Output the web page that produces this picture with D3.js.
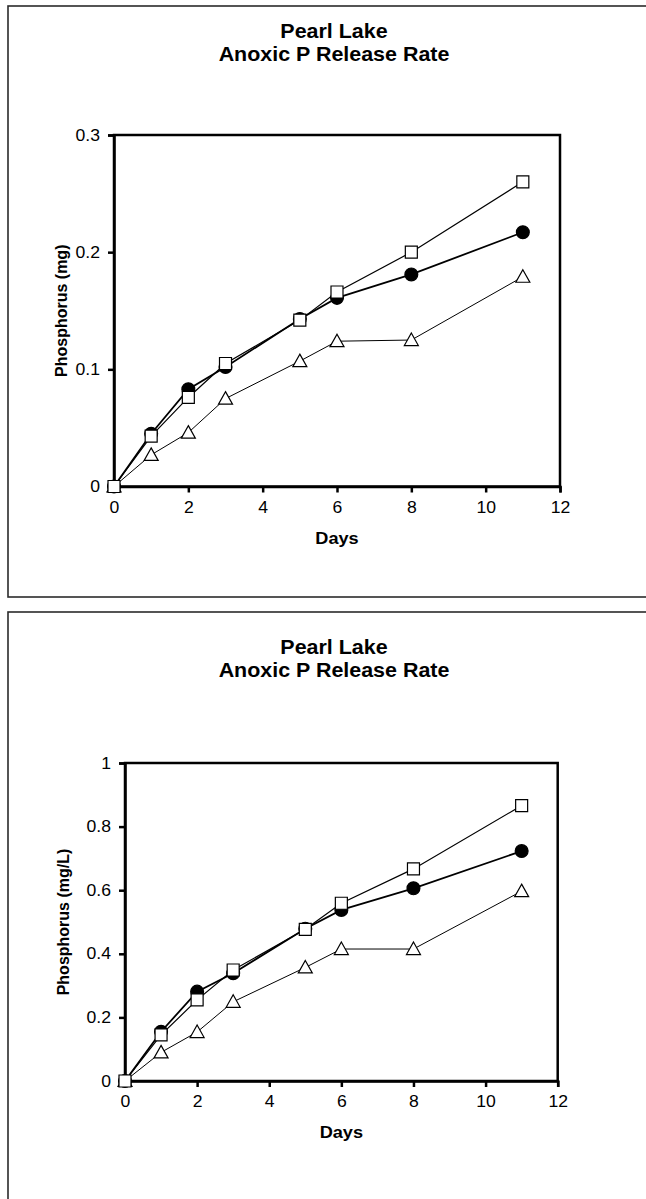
<!DOCTYPE html>
<html>
<head>
<meta charset="utf-8">
<script src="https://cdn.jsdelivr.net/npm/d3@7"></script>
<style>
  html, body { margin: 0; padding: 0; background: #fff; }
  svg { display: block; }
  text { font-family: "Liberation Sans", Arial, sans-serif; fill: #000; }
</style>
</head>
<body>
<svg id="chart" width="646" height="1199"></svg>
<script>
// ---------- data ----------
const titleLines = ["Pearl Lake", "Anoxic P Release Rate"];
const xLabel = "Days";
const yLabelMass = "Phosphorus (mg)";
const yLabelConc = "Phosphorus (mg/L)";

const days = [0, 1, 2, 3, 5, 6, 8, 11];

// top chart: phosphorus mass (mg)
const massCircle   = [0, 0.045, 0.083, 0.102, 0.143, 0.161, 0.181, 0.217];
const massSquare   = [0, 0.043, 0.076, 0.105, 0.142, 0.166, 0.200, 0.260];
const massTriangle = [0, 0.027, 0.046, 0.075, 0.107, 0.124, 0.125, 0.179];

// bottom chart: phosphorus concentration (mg/L)
const concCircle   = [0, 0.155, 0.281, 0.339, 0.479, 0.538, 0.606, 0.723];
const concSquare   = [0, 0.145, 0.255, 0.349, 0.477, 0.559, 0.667, 0.866];
const concTriangle = [0, 0.090, 0.154, 0.249, 0.357, 0.415, 0.415, 0.597];

const xTicks = [0, 2, 4, 6, 8, 10, 12];
const yTicksMass = [0, 0.1, 0.2, 0.3];
const yTickLabelsMass = ["0", "0.1", "0.2", "0.3"];
const yTicksConc = [0, 0.2, 0.4, 0.6, 0.8, 1];
const yTickLabelsConc = ["0", "0.2", "0.4", "0.6", "0.8", "1"];

// ---------- drawing ----------
const svg = d3.select("#chart");
const SX = 1.1; // the original text is slightly stretched horizontally

function drawPanel(cfg) {
  const g = svg.append("g");

  // outer frame (extends beyond the right edge of the page)
  g.append("rect")
    .attr("x", cfg.box.x).attr("y", cfg.box.y)
    .attr("width", cfg.box.w).attr("height", cfg.box.h)
    .attr("fill", "#fff").attr("stroke", "#2b2b2b").attr("stroke-width", 1.6);

  // title
  const t = g.append("text")
    .attr("transform", `translate(${cfg.titleX},${cfg.titleY}) scale(${SX},1)`)
    .attr("text-anchor", "middle")
    .style("font-size", "19.5px").style("font-weight", "bold");
  titleLines.forEach((s, i) => {
    t.append("tspan").attr("x", 0).attr("dy", i === 0 ? 0 : 23).text(s);
  });

  const x = d3.scaleLinear().domain([0, 12]).range([cfg.left, cfg.right]);
  const y = d3.scaleLinear().domain(cfg.yDomain).range([cfg.bottom, cfg.top]);

  // plot area border
  g.append("rect")
    .attr("x", cfg.left).attr("y", cfg.top)
    .attr("width", cfg.right - cfg.left).attr("height", cfg.bottom - cfg.top)
    .attr("fill", "none").attr("stroke", "#000").attr("stroke-width", 2.5);

  // x axis
  const xAxis = d3.axisBottom(x).tickValues(xTicks).tickSize(6).tickPadding(9)
    .tickFormat(d3.format("d"));
  const gx = g.append("g").attr("transform", `translate(0,${cfg.bottom})`).call(xAxis);
  gx.select(".domain").attr("stroke", "#000").attr("stroke-width", 2.5);
  gx.selectAll(".tick line").attr("stroke", "#000").attr("stroke-width", 2.5);
  gx.selectAll(".tick text")
    .attr("transform", `scale(${SX},1)`)
    .style("font-size", "16px").style("font-family", "Liberation Sans, Arial, sans-serif");

  // y axis
  const yAxis = d3.axisLeft(y).tickValues(cfg.yTicks).tickSize(6).tickPadding(8)
    .tickFormat((d, i) => cfg.yTickLabels[i]);
  const gy = g.append("g").attr("transform", `translate(${cfg.left},0)`).call(yAxis);
  gy.select(".domain").attr("stroke", "#000").attr("stroke-width", 2.5);
  gy.selectAll(".tick line").attr("stroke", "#000").attr("stroke-width", 2.5);
  gy.selectAll(".tick text")
    .attr("x", -14 / SX)
    .attr("transform", `scale(${SX},1)`)
    .style("font-size", "16px").style("font-family", "Liberation Sans, Arial, sans-serif");

  // axis titles
  g.append("text")
    .attr("transform", `translate(${(cfg.left + cfg.right) / 2},${cfg.bottom + 57}) scale(${SX},1)`)
    .attr("text-anchor", "middle")
    .style("font-size", "16.5px").style("font-weight", "bold")
    .text(xLabel);
  g.append("text")
    .attr("transform", `translate(${cfg.yTitleX},${(cfg.top + cfg.bottom) / 2}) rotate(-90)`)
    .attr("text-anchor", "middle")
    .style("font-size", "16px").style("font-weight", "bold")
    .text(cfg.yTitle);

  const line = d3.line().x((d, i) => x(days[i])).y(d => y(d));
  const series = [
    { vals: cfg.tri, shape: "triangle", lw: 1 },
    { vals: cfg.circ, shape: "circle", lw: 1.8 },
    { vals: cfg.sq, shape: "square", lw: 1.2 }
  ];
  series.forEach(s => {
    g.append("path").datum(s.vals).attr("d", line)
      .attr("fill", "none").attr("stroke", "#000").attr("stroke-width", s.lw);
  });
  series.forEach(s => {
    const pts = g.append("g").selectAll("path").data(s.vals).join("path")
      .attr("transform", (d, i) => `translate(${x(days[i])},${y(d)})`)
      .attr("stroke", "#000").attr("stroke-width", 1.2);
    if (s.shape === "circle") {
      pts.attr("d", d3.symbol(d3.symbolCircle, 130)()).attr("fill", "#000");
    } else if (s.shape === "square") {
      pts.attr("d", "M-6,-6H6V6H-6Z").attr("fill", "#fff");
    } else {
      pts.attr("d", "M0,-7L7,5.5H-7Z").attr("fill", "#fff");
    }
  });
}

drawPanel({
  box: { x: 8, y: 6, w: 700, h: 591 },
  titleX: 334, titleY: 38,
  left: 114, right: 560, top: 135, bottom: 486.5,
  yDomain: [0, 0.3], yTicks: yTicksMass, yTickLabels: yTickLabelsMass,
  yTitle: yLabelMass, yTitleX: 67,
  circ: massCircle, sq: massSquare, tri: massTriangle
});

drawPanel({
  box: { x: 8, y: 612, w: 700, h: 620 },
  titleX: 334, titleY: 654,
  left: 125, right: 557.7, top: 763, bottom: 1081,
  yDomain: [0, 1], yTicks: yTicksConc, yTickLabels: yTickLabelsConc,
  yTitle: yLabelConc, yTitleX: 69,
  circ: concCircle, sq: concSquare, tri: concTriangle
});
</script>
</body>
</html>
